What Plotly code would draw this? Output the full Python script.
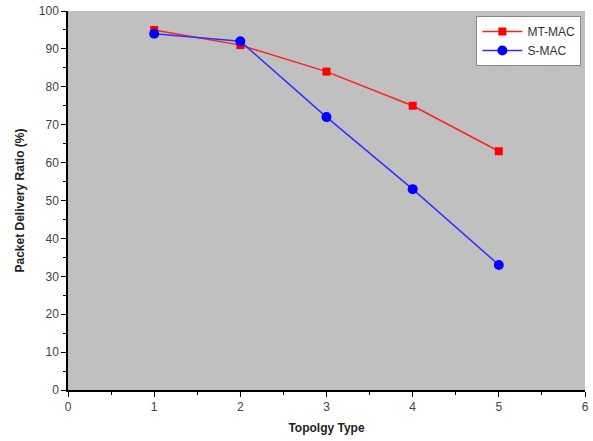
import plotly.graph_objects as go

topology = [1, 2, 3, 4, 5]
mt_mac = [95, 91, 84, 75, 63]
s_mac = [94, 92, 72, 53, 33]

fig = go.Figure()
fig.add_trace(go.Scatter(x=topology, y=mt_mac, name="MT-MAC", mode="lines+markers",
                         line=dict(color="#ff2020", width=1.5),
                         marker=dict(symbol="square", size=8, color="#ff0000")))
fig.add_trace(go.Scatter(x=topology, y=s_mac, name="S-MAC", mode="lines+markers",
                         line=dict(color="#3030ff", width=1.5),
                         marker=dict(symbol="circle", size=10, color="#0000ff")))

axfont = dict(family="Liberation Sans, Arial", size=12, color="#444444")
fig.update_layout(
    width=593, height=441,
    margin=dict(l=68, r=4, t=7, b=51),
    paper_bgcolor="white", plot_bgcolor="#c0c0c0",
    showlegend=True,
    legend=dict(x=0.993, y=0.987, xanchor="right", yanchor="top",
                bgcolor="white", bordercolor="#888888", borderwidth=1,
                font=dict(family="Liberation Sans, Arial", size=12, color="#333333"),
                tracegroupgap=2, itemwidth=40),
    xaxis=dict(range=[0, 6], tickvals=[0, 1, 2, 3, 4, 5, 6], showgrid=False, zeroline=False,
               showline=True, linecolor="black", linewidth=1.5, ticks="outside", ticklen=5,
               tickcolor="black", tickfont=axfont,
               minor=dict(tickvals=[0.5, 1.5, 2.5, 3.5, 4.5, 5.5], ticks="outside", ticklen=3, tickcolor="black"),
               title=dict(text="<b>Topolgy Type</b>", font=dict(family="Liberation Sans, Arial", size=12, color="#222222"), standoff=10)),
    yaxis=dict(range=[0, 100], tickvals=list(range(0, 101, 10)), showgrid=False, zeroline=False,
               showline=True, linecolor="black", linewidth=1.5, ticks="outside", ticklen=5,
               tickcolor="black", tickfont=axfont,
               minor=dict(tickvals=list(range(5, 100, 10)), ticks="outside", ticklen=3, tickcolor="black"),
               title=dict(text="<b>Packet Delivery Ratio (%)</b>", font=dict(family="Liberation Sans, Arial", size=12, color="#222222"), standoff=12)),
)
fig.write_html("out.html")
